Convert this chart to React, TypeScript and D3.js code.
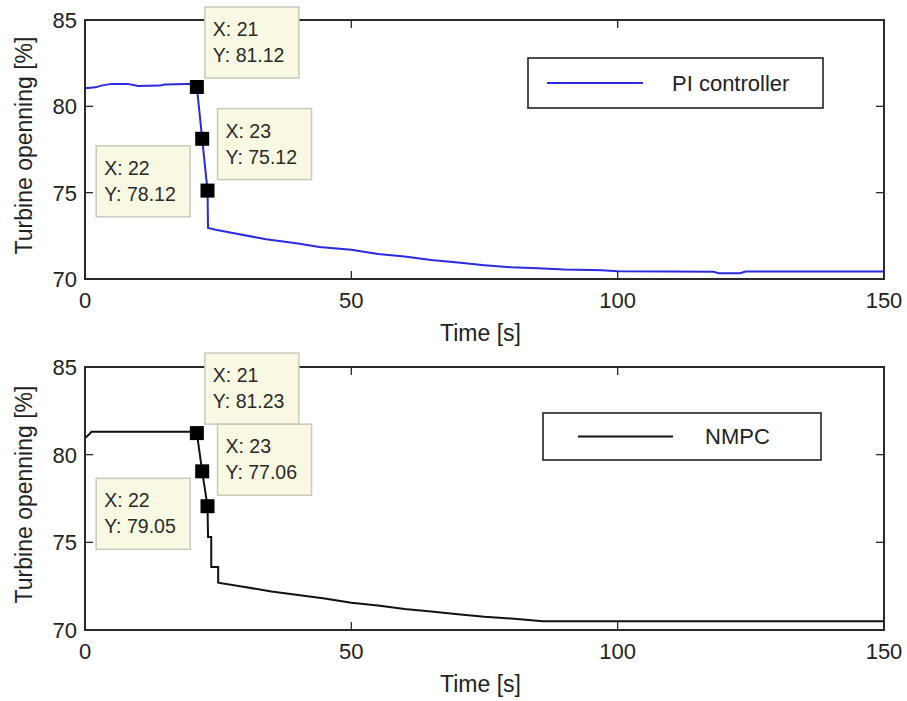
import React from "react";
import * as d3 from "d3";

// ---- data ----
const piTime = [0, 2, 3, 5, 8, 10, 14, 15, 19, 20.5, 21, 22, 23, 23.1, 24.5, 28, 34, 40, 44, 50, 55, 60, 65, 70, 75, 80, 85, 90, 97, 100, 110, 118, 119, 123, 124, 150];
const piValue = [81.05, 81.1, 81.2, 81.3, 81.3, 81.18, 81.2, 81.27, 81.3, 81.3, 81.12, 78.12, 75.12, 72.95, 72.85, 72.65, 72.3, 72.05, 71.85, 71.7, 71.45, 71.3, 71.1, 70.95, 70.8, 70.68, 70.62, 70.55, 70.5, 70.45, 70.43, 70.42, 70.33, 70.33, 70.43, 70.43];

const nmpcTime = [0, 0.6, 1.2, 10, 20, 21, 22, 23, 23.1, 23.7, 23.7, 25, 25, 30, 35, 40, 45, 50, 55, 60, 65, 70, 75, 80, 86, 100, 150];
const nmpcValue = [80.95, 81.1, 81.3, 81.3, 81.3, 81.23, 79.05, 77.06, 75.3, 75.3, 73.6, 73.6, 72.7, 72.45, 72.2, 72.0, 71.8, 71.55, 71.4, 71.2, 71.05, 70.9, 70.75, 70.65, 70.5, 70.5, 70.5];

const tipX = [21, 22, 23];
const piTipY = [81.12, 78.12, 75.12];
const nmpcTipY = [81.23, 79.05, 77.06];

const xTicks = [0, 50, 100, 150];
const yTicks = [70, 75, 80, 85];

const piLabel = "PI controller";
const nmpcLabel = "NMPC";
const xLabel = "Time [s]";
const yLabel = "Turbine openning [%]";

// ---- layout / style ----
const FONT = "'Liberation Sans', Arial, sans-serif";
const AXIS = "#2a2a2a";
const tipOffsets = [
  { dx: 8, dy: -80 },
  { dx: -106, dy: 7 },
  { dx: 10, dy: -82 },
];
const TIP_W = 94;
const TIP_H = 71;

type PanelProps = {
  top: number;
  bottom: number;
  times: number[];
  values: number[];
  tipY: number[];
  color: string;
  label: string;
  legend: { x0: number; y0: number; x1: number; y1: number; lx0: number; lx1: number; tx: number };
};

function Panel({ top, bottom, times, values, tipY, color, label, legend }: PanelProps) {
  const left = 85;
  const right = 884;
  const x = d3.scaleLinear().domain([0, 150]).range([left, right]);
  const y = d3.scaleLinear().domain([70, 85]).range([bottom, top]);
  const pts: [number, number][] = times.map((t, i) => [t, values[i]]);
  const line = d3
    .line<[number, number]>()
    .x((d) => x(d[0]))
    .y((d) => y(d[1]))(pts);
  const tick = 8;
  const legY = (legend.y0 + legend.y1) / 2;
  return (
    <g>
      <rect x={left} y={top} width={right - left} height={bottom - top} fill="#fff" />
      <path d={line || ""} fill="none" stroke={color} strokeWidth={2} />
      {/* ticks */}
      {xTicks.map((t) => (
        <g key={"xt" + t}>
          <line x1={x(t)} x2={x(t)} y1={bottom} y2={bottom - tick} stroke={AXIS} strokeWidth={1.3} />
          <line x1={x(t)} x2={x(t)} y1={top} y2={top + tick} stroke={AXIS} strokeWidth={1.3} />
          <text x={x(t)} y={bottom + 29} textAnchor="middle" fontSize={22} fontFamily={FONT} fill="#222">
            {t}
          </text>
        </g>
      ))}
      {yTicks.map((v) => (
        <g key={"yt" + v}>
          <line x1={left} x2={left + tick} y1={y(v)} y2={y(v)} stroke={AXIS} strokeWidth={1.3} />
          <line x1={right} x2={right - tick} y1={y(v)} y2={y(v)} stroke={AXIS} strokeWidth={1.3} />
          <text x={77} y={y(v)} dy="0.36em" textAnchor="end" fontSize={22} fontFamily={FONT} fill="#222">
            {v}
          </text>
        </g>
      ))}
      <rect x={left} y={top} width={right - left} height={bottom - top} fill="none" stroke={AXIS} strokeWidth={2} />
      {/* legend */}
      <rect
        x={legend.x0}
        y={legend.y0}
        width={legend.x1 - legend.x0}
        height={legend.y1 - legend.y0}
        fill="#fff"
        stroke="#222"
        strokeWidth={1.6}
      />
      <line x1={legend.lx0} x2={legend.lx1} y1={legY} y2={legY} stroke={color} strokeWidth={2} />
      <text x={legend.tx} y={legY} dy="0.36em" fontSize={22} fontFamily={FONT} fill="#222">
        {label}
      </text>
      {/* data tips */}
      {tipX.map((t, i) => {
        const mx = x(t);
        const my = y(tipY[i]);
        const bx = mx + tipOffsets[i].dx;
        const by = my + tipOffsets[i].dy;
        return (
          <g key={"tip" + t}>
            <rect x={bx} y={by} width={TIP_W} height={TIP_H} fill="#f9f9e3" stroke="#c9c9bd" strokeWidth={1.5} />
            <text x={bx + 8} y={by + 29} fontSize={19.5} fontFamily={FONT} fill="#2a2a2a">
              {"X: " + t}
            </text>
            <text x={bx + 8} y={by + 55} fontSize={19.5} fontFamily={FONT} fill="#2a2a2a">
              {"Y: " + tipY[i].toFixed(2)}
            </text>
            <rect x={mx - 7} y={my - 7} width={14} height={14} fill="#000" />
          </g>
        );
      })}
      {/* axis labels */}
      <text x={(left + right) / 2 - 4} y={bottom + 62} textAnchor="middle" fontSize={23} fontFamily={FONT} fill="#222">
        {xLabel}
      </text>
      <text
        transform={`translate(32, ${(top + bottom) / 2 - 4}) rotate(-90)`}
        textAnchor="middle"
        fontSize={23}
        fontFamily={FONT}
        fill="#222"
      >
        {yLabel}
      </text>
    </g>
  );
}

export default function App() {
  return (
    <svg
      width={907}
      height={701}
      style={{ position: "absolute", left: 0, top: 0, background: "#fff" }}
    >
      <rect x={0} y={0} width={907} height={701} fill="#fff" />
      <Panel
        top={20}
        bottom={279}
        times={piTime}
        values={piValue}
        tipY={piTipY}
        color="#2a2ae0"
        label={piLabel}
        legend={{ x0: 528, y0: 58, x1: 823, y1: 108, lx0: 547, lx1: 643, tx: 672 }}
      />
      <Panel
        top={367}
        bottom={630}
        times={nmpcTime}
        values={nmpcValue}
        tipY={nmpcTipY}
        color="#111"
        label={nmpcLabel}
        legend={{ x0: 543, y0: 413, x1: 821, y1: 460, lx0: 578, lx1: 673, tx: 705 }}
      />
    </svg>
  );
}
